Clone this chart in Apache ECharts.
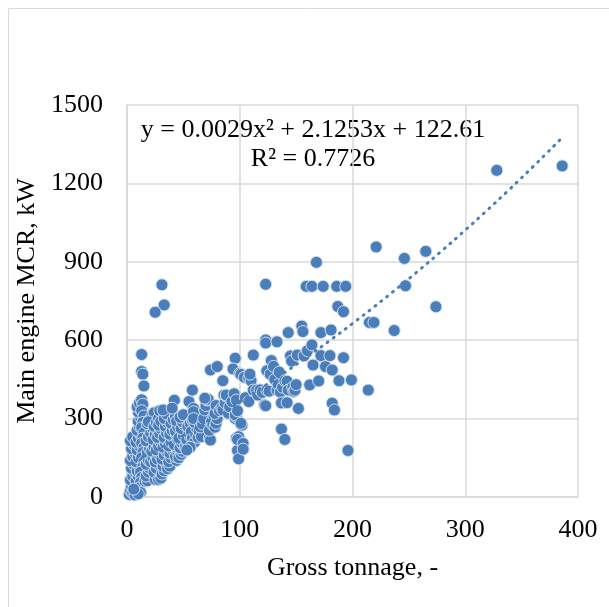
<!DOCTYPE html>
<html>
<head>
<meta charset="utf-8">
<script src="https://cdn.jsdelivr.net/npm/echarts@6/dist/echarts.min.js"></script>
<style>
  html, body { margin: 0; padding: 0; background: #fff; }
  #chart { width: 609px; height: 607px; }
</style>
</head>
<body>
<div id="chart"></div>
<script>
// [gross tonnage, main engine MCR kW]
let nearAxis = [
  [2,10],[3,25],[4,40],[5,15],[6,50],[3,65],[5,80],[7,95],[4,110],[6,125],[3,140],[5,155],[7,170],[4,185],[6,200],[3,215],[5,230],
  [8,20],[9,40],[8,62],[10,80],[9,100],[11,118],[8,135],[10,150],[12,165],[9,180],[11,195],[8,210],[10,225],[12,240],[9,255],[11,270],
  [10,290],[12,305],[10,325],[9,345],[11,360],[13,372],[14,355],[13,330],[15,310],[14,285],[13,265],[15,245],[14,225],[13,205],[15,190],
  [14,170],[13,150],[15,135],[14,115],[12,95],[13,75],[12,55],[11,35],[12,18],[7,8],[10,12],[6,30],
  [13,545],[13,480],[14,470],[15,425]
];
let small1 = [
  [16,60],[18,62],[17,80],[19,95],[20,110],[17,125],[19,140],[21,155],[18,170],[20,185],[22,200],[17,215],[19,230],[21,245],[23,260],
  [18,280],[20,295],[22,310],[24,322],[19,288],[21,135],[23,150],[25,165],[22,175],[24,190],[26,205],[23,220],[25,240],[27,255],[24,270],
  [26,285],[28,300],[29,330],[25,67],[27,80],[24,95],[26,110],[28,125],[25,134],[27,145],[29,160],[26,180],[28,195],[30,210],[27,228],
  [29,243],[30,262],[28,275],[30,290]
];
let small2 = [
  [28,67],[30,72],[31,88],[33,100],[32,118],[34,132],[31,145],[33,160],[35,175],[32,190],[34,205],[36,212],[33,228],[35,245],[37,258],
  [34,270],[36,285],[33,300],[35,318],[32,333],[36,108],[38,118],[37,135],[39,150],[38,168],[40,182],[37,195],[39,210],[41,225],[38,240],
  [40,255],[42,268],[39,282],[41,296],[43,310],[42,370],[40,340],[44,140],[43,155],[45,172],[44,190],[42,200],[45,220],[44,238],[43,252],
  [45,268],[44,290]
];
let small3 = [
  [46,150],[48,163],[49,175],[47,188],[50,198],[48,210],[46,225],[50,235],[52,250],[48,262],[51,275],[49,288],[53,300],[47,305],[50,315],
  [52,195],[54,205],[53,220],[56,232],[55,245],[57,258],[54,270],[56,282],[58,293],[55,365],[58,409],[59,339],[60,314],[59,326],[57,250],
  [58,225],[60,210],[61,240],[62,262],[60,285],[59,300],[56,190],[53,180]
];
let medium = [
  [63,228],[64,250],[66,231],[65,268],[67,279],[68,300],[69,333],[70,350],[71,371],[72,374],[69,378],[73,225],[74,218],[73,255],[75,290],
  [76,276],[77,310],[78,267],[79,282],[80,300],[78,320],[74,486],[80,499],[79,350],[82,330],[84,340],[85,333],[85,445],[86,390],[87,360],
  [88,386],[88,390],[90,320],[91,345],[93,365],[95,395],[96,300],[97,371],[97,307],[96,314],[98,330],[96,531],[94,490],[97,225],[99,231],
  [98,178],[99,146],[98,220],[102,275],[103,205],[103,183],[101,282],[100,473]
];
let larger = [
  [101,469],[104,458],[108,454],[110,445],[112,543],[109,470],[105,380],[108,365],[112,409],[115,409],[116,390],[118,410],[120,400],
  [122,352],[124,409],[123,349],[126,405],[124,483],[123,601],[123,589],[128,522],[127,470],[130,500],[133,594],[131,450],[133,409],
  [135,478],[134,430],[136,402],[138,420],[140,445],[137,360],[142,361],[137,260],[140,220],[142,443],[143,629],[143,409],[145,540],
  [147,420],[148,404],[146,520],[149,409],[150,430],[151,543],[152,339],[155,654],[156,633],[157,540],[160,560],[162,429],[123,814]
];
let largest = [
  [159,806],[164,806],[168,898],[170,444],[172,541],[172,629],[174,806],[164,582],[165,505],[176,499],[180,541],[181,639],[182,486],
  [182,359],[184,333],[186,806],[187,729],[188,445],[192,709],[192,533],[194,806],[196,178],[199,448],[214,409],[215,668],[219,668],
  [221,957],[237,637],[246,913],[247,808],[265,940],[274,728],[328,1250],[386,1267]
];
let outliers = [[31,812],[33,735],[25,707]];

let trendCoef = [0.0029, 2.1253, 122.61];   // y = a x^2 + b x + c
let trendX = [2, 20, 40, 60, 80, 100, 120, 140, 160, 180, 200, 220, 240, 260, 280, 300, 320, 340, 360, 386];

let xTicks = [0, 100, 200, 300, 400];
let yTicks = [0, 300, 600, 900, 1200, 1500];

let allPoints = [].concat(nearAxis, small1, small2, small3, medium, larger, largest, outliers);
let trendData = trendX.map(function (x) {
    return [x, trendCoef[0] * x * x + trendCoef[1] * x + trendCoef[2]];
});

let font = "'Liberation Serif', 'Times New Roman', serif";
let blue = '#4a7ebb';
let gridGray = '#d9d9d9';

let myChart = echarts.init(document.getElementById('chart'));

let option = {
    backgroundColor: '#fff',
    animation: false,
    textStyle: { fontFamily: font, color: '#000' },
    grid: { left: 127, right: 31, top: 105, bottom: 110 },
    graphic: [
        {
            type: 'rect',
            shape: { x: 8.5, y: 8.5, width: 620, height: 620 },
            style: { fill: 'none', stroke: gridGray, lineWidth: 1 }
        },
        {
            type: 'text', x: 313, y: 130,
            style: { text: 'y = 0.0029x² + 2.1253x + 122.61', fontFamily: font, fontSize: 26, fill: '#000', textAlign: 'center', textVerticalAlign: 'middle' }
        },
        {
            type: 'text', x: 313, y: 159,
            style: { text: 'R² = 0.7726', fontFamily: font, fontSize: 26, fill: '#000', textAlign: 'center', textVerticalAlign: 'middle' }
        }
    ],
    xAxis: {
        type: 'value',
        min: xTicks[0],
        max: xTicks[xTicks.length - 1],
        interval: xTicks[1] - xTicks[0],
        name: 'Gross tonnage, -',
        nameLocation: 'middle',
        nameGap: 58,
        nameTextStyle: { fontFamily: font, fontSize: 26, color: '#000' },
        axisLine: { show: true, lineStyle: { color: gridGray, width: 1.5 } },
        axisTick: { show: false },
        axisLabel: { fontFamily: font, fontSize: 26, color: '#000', margin: 20, formatter: function (v) { return String(v); } },
        splitLine: { show: true, lineStyle: { color: gridGray, width: 1.5 } }
    },
    yAxis: {
        type: 'value',
        min: yTicks[0],
        max: yTicks[yTicks.length - 1],
        interval: yTicks[1] - yTicks[0],
        name: 'Main engine MCR, kW',
        nameLocation: 'middle',
        nameGap: 80,
        nameTextStyle: { fontFamily: font, fontSize: 26, color: '#000' },
        axisLine: { show: true, lineStyle: { color: gridGray, width: 1.5 } },
        axisTick: { show: false },
        axisLabel: { fontFamily: font, fontSize: 26, color: '#000', margin: 24, formatter: function (v) { return String(v); } },
        splitLine: { show: true, lineStyle: { color: gridGray, width: 1.5 } }
    },
    series: [
        {
            name: 'MCR',
            type: 'scatter',
            data: allPoints,
            symbol: 'circle',
            symbolSize: 12,
            itemStyle: { color: blue, borderColor: '#d2deef', borderWidth: 1, opacity: 1 }
        },
        {
            name: 'Trend',
            type: 'line',
            data: trendData,
            smooth: true,
            showSymbol: false,
            z: 3,
            lineStyle: { color: blue, width: 3, type: [1, 6.5], cap: 'round' }
        }
    ]
};
myChart.setOption(option);
</script>
</body>
</html>
